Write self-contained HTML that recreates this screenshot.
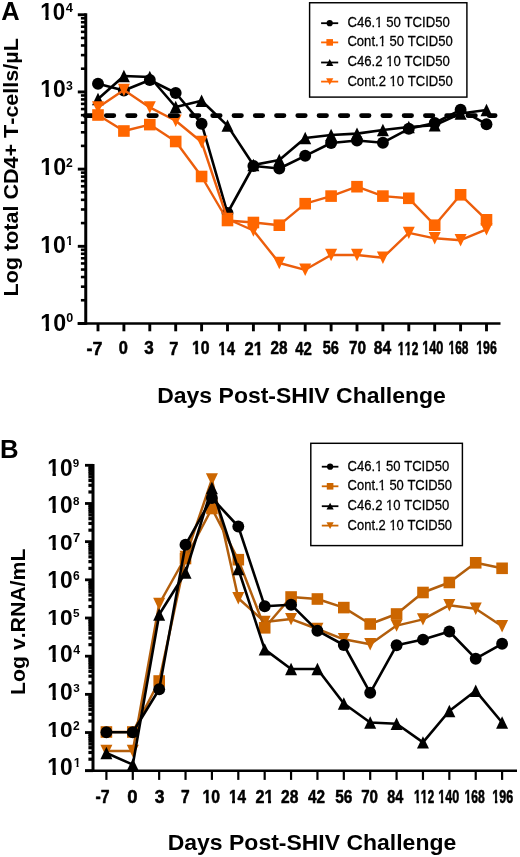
<!DOCTYPE html>
<html><head><meta charset="utf-8"><style>
html,body{margin:0;padding:0;background:#fff;}
body{width:520px;height:857px;overflow:hidden;}
svg{display:block;font-family:"Liberation Sans", sans-serif;font-kerning:none;will-change:transform;}
</style></head><body>
<svg width="520" height="857" viewBox="0 0 520 857">
<g transform="translate(1.19,19.90) scale(0.9444,0.9730)"><text x="0" y="0" font-size="27" font-weight="bold" fill="#000">A</text></g>
<line x1="85.75" y1="13.35" x2="85.75" y2="324.7" stroke="#000" stroke-width="3.0"/>
<line x1="77.8" y1="323.50" x2="85.75" y2="323.50" stroke="#000" stroke-width="2.9"/>
<line x1="80.9" y1="300.26" x2="85.75" y2="300.26" stroke="#000" stroke-width="2.6"/>
<line x1="80.9" y1="286.67" x2="85.75" y2="286.67" stroke="#000" stroke-width="2.6"/>
<line x1="80.9" y1="277.03" x2="85.75" y2="277.03" stroke="#000" stroke-width="2.6"/>
<line x1="80.9" y1="269.55" x2="85.75" y2="269.55" stroke="#000" stroke-width="2.6"/>
<line x1="80.9" y1="263.44" x2="85.75" y2="263.44" stroke="#000" stroke-width="2.6"/>
<line x1="80.9" y1="258.27" x2="85.75" y2="258.27" stroke="#000" stroke-width="2.6"/>
<line x1="80.9" y1="253.79" x2="85.75" y2="253.79" stroke="#000" stroke-width="2.6"/>
<line x1="80.9" y1="249.84" x2="85.75" y2="249.84" stroke="#000" stroke-width="2.6"/>
<line x1="77.8" y1="246.31" x2="85.75" y2="246.31" stroke="#000" stroke-width="2.9"/>
<line x1="80.9" y1="223.08" x2="85.75" y2="223.08" stroke="#000" stroke-width="2.6"/>
<line x1="80.9" y1="209.48" x2="85.75" y2="209.48" stroke="#000" stroke-width="2.6"/>
<line x1="80.9" y1="199.84" x2="85.75" y2="199.84" stroke="#000" stroke-width="2.6"/>
<line x1="80.9" y1="192.36" x2="85.75" y2="192.36" stroke="#000" stroke-width="2.6"/>
<line x1="80.9" y1="186.25" x2="85.75" y2="186.25" stroke="#000" stroke-width="2.6"/>
<line x1="80.9" y1="181.08" x2="85.75" y2="181.08" stroke="#000" stroke-width="2.6"/>
<line x1="80.9" y1="176.61" x2="85.75" y2="176.61" stroke="#000" stroke-width="2.6"/>
<line x1="80.9" y1="172.66" x2="85.75" y2="172.66" stroke="#000" stroke-width="2.6"/>
<line x1="77.8" y1="169.12" x2="85.75" y2="169.12" stroke="#000" stroke-width="2.9"/>
<line x1="80.9" y1="145.89" x2="85.75" y2="145.89" stroke="#000" stroke-width="2.6"/>
<line x1="80.9" y1="132.30" x2="85.75" y2="132.30" stroke="#000" stroke-width="2.6"/>
<line x1="80.9" y1="122.65" x2="85.75" y2="122.65" stroke="#000" stroke-width="2.6"/>
<line x1="80.9" y1="115.17" x2="85.75" y2="115.17" stroke="#000" stroke-width="2.6"/>
<line x1="80.9" y1="109.06" x2="85.75" y2="109.06" stroke="#000" stroke-width="2.6"/>
<line x1="80.9" y1="103.89" x2="85.75" y2="103.89" stroke="#000" stroke-width="2.6"/>
<line x1="80.9" y1="99.42" x2="85.75" y2="99.42" stroke="#000" stroke-width="2.6"/>
<line x1="80.9" y1="95.47" x2="85.75" y2="95.47" stroke="#000" stroke-width="2.6"/>
<line x1="77.8" y1="91.94" x2="85.75" y2="91.94" stroke="#000" stroke-width="2.9"/>
<line x1="80.9" y1="68.70" x2="85.75" y2="68.70" stroke="#000" stroke-width="2.6"/>
<line x1="80.9" y1="55.11" x2="85.75" y2="55.11" stroke="#000" stroke-width="2.6"/>
<line x1="80.9" y1="45.47" x2="85.75" y2="45.47" stroke="#000" stroke-width="2.6"/>
<line x1="80.9" y1="37.99" x2="85.75" y2="37.99" stroke="#000" stroke-width="2.6"/>
<line x1="80.9" y1="31.87" x2="85.75" y2="31.87" stroke="#000" stroke-width="2.6"/>
<line x1="80.9" y1="26.71" x2="85.75" y2="26.71" stroke="#000" stroke-width="2.6"/>
<line x1="80.9" y1="22.23" x2="85.75" y2="22.23" stroke="#000" stroke-width="2.6"/>
<line x1="80.9" y1="18.28" x2="85.75" y2="18.28" stroke="#000" stroke-width="2.6"/>
<line x1="77.8" y1="14.75" x2="85.75" y2="14.75" stroke="#000" stroke-width="2.9"/>
<line x1="77.7" y1="323.5" x2="500.5" y2="323.5" stroke="#000" stroke-width="2.6"/>
<line x1="98.00" y1="323.5" x2="98.00" y2="331.3" stroke="#000" stroke-width="2.9"/>
<line x1="123.90" y1="323.5" x2="123.90" y2="331.3" stroke="#000" stroke-width="2.9"/>
<line x1="149.80" y1="323.5" x2="149.80" y2="331.3" stroke="#000" stroke-width="2.9"/>
<line x1="175.70" y1="323.5" x2="175.70" y2="331.3" stroke="#000" stroke-width="2.9"/>
<line x1="201.60" y1="323.5" x2="201.60" y2="331.3" stroke="#000" stroke-width="2.9"/>
<line x1="227.50" y1="323.5" x2="227.50" y2="331.3" stroke="#000" stroke-width="2.9"/>
<line x1="253.40" y1="323.5" x2="253.40" y2="331.3" stroke="#000" stroke-width="2.9"/>
<line x1="279.30" y1="323.5" x2="279.30" y2="331.3" stroke="#000" stroke-width="2.9"/>
<line x1="305.20" y1="323.5" x2="305.20" y2="331.3" stroke="#000" stroke-width="2.9"/>
<line x1="331.10" y1="323.5" x2="331.10" y2="331.3" stroke="#000" stroke-width="2.9"/>
<line x1="357.00" y1="323.5" x2="357.00" y2="331.3" stroke="#000" stroke-width="2.9"/>
<line x1="382.90" y1="323.5" x2="382.90" y2="331.3" stroke="#000" stroke-width="2.9"/>
<line x1="408.80" y1="323.5" x2="408.80" y2="331.3" stroke="#000" stroke-width="2.9"/>
<line x1="434.70" y1="323.5" x2="434.70" y2="331.3" stroke="#000" stroke-width="2.9"/>
<line x1="460.60" y1="323.5" x2="460.60" y2="331.3" stroke="#000" stroke-width="2.9"/>
<line x1="486.50" y1="323.5" x2="486.50" y2="331.3" stroke="#000" stroke-width="2.9"/>
<g transform="translate(40.24,19.95) scale(0.9720,1.0092)"><text x="0" y="0" font-size="23" font-weight="bold" fill="#000">10</text><rect x="-0.15" y="-3.95" width="5.37" height="5.35" fill="#fff"/><rect x="8.67" y="-3.95" width="5.08" height="5.35" fill="#fff"/></g>
<g transform="translate(65.74,11.70) scale(1.0353,1.0353)"><text x="0" y="0" font-size="12.5" font-weight="bold" fill="#000">4</text></g>
<g transform="translate(40.31,97.15) scale(0.9935,1.0031)"><text x="0" y="0" font-size="23" font-weight="bold" fill="#000">10</text><rect x="-0.15" y="-3.95" width="5.37" height="5.35" fill="#fff"/><rect x="8.67" y="-3.95" width="5.08" height="5.35" fill="#fff"/></g>
<g transform="translate(66.05,89.50) scale(0.9829,0.9829)"><text x="0" y="0" font-size="12.5" font-weight="bold" fill="#000">3</text></g>
<g transform="translate(40.28,175.35) scale(1.0108,1.0092)"><text x="0" y="0" font-size="23" font-weight="bold" fill="#000">10</text><rect x="-0.15" y="-3.95" width="5.37" height="5.35" fill="#fff"/><rect x="8.67" y="-3.95" width="5.08" height="5.35" fill="#fff"/></g>
<g transform="translate(66.01,167.30) scale(0.9714,0.9714)"><text x="0" y="0" font-size="12.5" font-weight="bold" fill="#000">2</text></g>
<g transform="translate(40.30,252.75) scale(1.0022,1.0154)"><text x="0" y="0" font-size="23" font-weight="bold" fill="#000">10</text><rect x="-0.15" y="-3.95" width="5.37" height="5.35" fill="#fff"/><rect x="8.67" y="-3.95" width="5.08" height="5.35" fill="#fff"/></g>
<g transform="translate(66.27,244.50) scale(0.9765,0.9765)"><text x="0" y="0" font-size="12.5" font-weight="bold" fill="#000">1</text><rect x="-0.81" y="-2.88" width="3.58" height="4.28" fill="#fff"/><rect x="4.78" y="-2.88" width="3.42" height="4.28" fill="#fff"/></g>
<g transform="translate(40.28,330.54) scale(1.0108,1.0215)"><text x="0" y="0" font-size="23" font-weight="bold" fill="#000">10</text><rect x="-0.15" y="-3.95" width="5.37" height="5.35" fill="#fff"/><rect x="8.67" y="-3.95" width="5.08" height="5.35" fill="#fff"/></g>
<g transform="translate(66.30,322.30) scale(1.0057,1.0057)"><text x="0" y="0" font-size="12.5" font-weight="bold" fill="#000">0</text></g>
<g transform="translate(86.54,354.66) scale(0.9169,0.9714)"><text x="0" y="0" font-size="19.5" font-weight="bold" fill="#000" stroke="#000" stroke-width="0.5" vector-effect="non-scaling-stroke" stroke-linejoin="round">-7</text></g>
<g transform="translate(118.68,354.42) scale(0.8410,0.9544)"><text x="0" y="0" font-size="19.5" font-weight="bold" fill="#000" stroke="#000" stroke-width="0.5" vector-effect="non-scaling-stroke" stroke-linejoin="round">0</text></g>
<g transform="translate(144.18,354.42) scale(0.8780,0.9544)"><text x="0" y="0" font-size="19.5" font-weight="bold" fill="#000" stroke="#000" stroke-width="0.5" vector-effect="non-scaling-stroke" stroke-linejoin="round">3</text></g>
<g transform="translate(169.18,354.66) scale(0.8410,0.9714)"><text x="0" y="0" font-size="19.5" font-weight="bold" fill="#000" stroke="#000" stroke-width="0.5" vector-effect="non-scaling-stroke" stroke-linejoin="round">7</text></g>
<g transform="translate(191.99,354.42) scale(0.8099,0.9544)"><text x="0" y="0" font-size="19.5" font-weight="bold" fill="#000" stroke="#000" stroke-width="0.5" vector-effect="non-scaling-stroke" stroke-linejoin="round">10</text><rect x="-0.37" y="-3.59" width="4.40" height="4.99" fill="#fff"/><rect x="7.75" y="-3.59" width="4.16" height="4.99" fill="#fff"/></g>
<g transform="translate(218.33,354.66) scale(0.7663,0.9714)"><text x="0" y="0" font-size="19.5" font-weight="bold" fill="#000" stroke="#000" stroke-width="0.5" vector-effect="non-scaling-stroke" stroke-linejoin="round">14</text><rect x="-0.37" y="-3.59" width="4.38" height="4.99" fill="#fff"/><rect x="7.77" y="-3.59" width="4.13" height="4.99" fill="#fff"/></g>
<g transform="translate(244.57,354.66) scale(0.8556,0.9714)"><text x="0" y="0" font-size="19.5" font-weight="bold" fill="#000" stroke="#000" stroke-width="0.5" vector-effect="non-scaling-stroke" stroke-linejoin="round">21</text><rect x="10.47" y="-3.59" width="4.42" height="4.99" fill="#fff"/><rect x="18.57" y="-3.59" width="4.17" height="4.99" fill="#fff"/></g>
<g transform="translate(270.61,354.42) scale(0.7855,0.9544)"><text x="0" y="0" font-size="19.5" font-weight="bold" fill="#000" stroke="#000" stroke-width="0.5" vector-effect="non-scaling-stroke" stroke-linejoin="round">28</text></g>
<g transform="translate(295.20,354.66) scale(0.7671,0.9714)"><text x="0" y="0" font-size="19.5" font-weight="bold" fill="#000" stroke="#000" stroke-width="0.5" vector-effect="non-scaling-stroke" stroke-linejoin="round">42</text></g>
<g transform="translate(322.71,354.42) scale(0.7476,0.9544)"><text x="0" y="0" font-size="19.5" font-weight="bold" fill="#000" stroke="#000" stroke-width="0.5" vector-effect="non-scaling-stroke" stroke-linejoin="round">56</text></g>
<g transform="translate(348.91,354.42) scale(0.7855,0.9544)"><text x="0" y="0" font-size="19.5" font-weight="bold" fill="#000" stroke="#000" stroke-width="0.5" vector-effect="non-scaling-stroke" stroke-linejoin="round">70</text></g>
<g transform="translate(373.80,354.42) scale(0.8000,0.9544)"><text x="0" y="0" font-size="19.5" font-weight="bold" fill="#000" stroke="#000" stroke-width="0.5" vector-effect="non-scaling-stroke" stroke-linejoin="round">84</text></g>
<g transform="translate(397.76,354.66) scale(0.6355,0.9714)"><text x="0" y="0" font-size="19.5" font-weight="bold" fill="#000" stroke="#000" stroke-width="0.5" vector-effect="non-scaling-stroke" stroke-linejoin="round">112</text><rect x="-0.37" y="-3.59" width="4.30" height="4.99" fill="#fff"/><rect x="7.85" y="-3.59" width="4.05" height="4.99" fill="#fff"/><rect x="10.47" y="-3.59" width="4.30" height="4.99" fill="#fff"/><rect x="18.69" y="-3.59" width="4.05" height="4.99" fill="#fff"/></g>
<g transform="translate(422.25,354.42) scale(0.6516,0.9544)"><text x="0" y="0" font-size="19.5" font-weight="bold" fill="#000" stroke="#000" stroke-width="0.5" vector-effect="non-scaling-stroke" stroke-linejoin="round">140</text><rect x="-0.37" y="-3.59" width="4.31" height="4.99" fill="#fff"/><rect x="7.84" y="-3.59" width="4.07" height="4.99" fill="#fff"/></g>
<g transform="translate(448.59,354.42) scale(0.6112,0.9544)"><text x="0" y="0" font-size="19.5" font-weight="bold" fill="#000" stroke="#000" stroke-width="0.5" vector-effect="non-scaling-stroke" stroke-linejoin="round">168</text><rect x="-0.37" y="-3.59" width="4.28" height="4.99" fill="#fff"/><rect x="7.87" y="-3.59" width="4.03" height="4.99" fill="#fff"/></g>
<g transform="translate(476.27,354.42) scale(0.6323,0.9544)"><text x="0" y="0" font-size="19.5" font-weight="bold" fill="#000" stroke="#000" stroke-width="0.5" vector-effect="non-scaling-stroke" stroke-linejoin="round">196</text><rect x="-0.37" y="-3.59" width="4.30" height="4.99" fill="#fff"/><rect x="7.85" y="-3.59" width="4.05" height="4.99" fill="#fff"/></g>
<g transform="translate(17.86,296.47) rotate(-90) scale(0.9799,0.9349)"><text x="0" y="0" font-size="22" font-weight="bold" fill="#000">Log total CD4+ T-cells/µL</text></g>
<g transform="translate(157.20,402.77) scale(0.9997,0.9953)"><text x="0" y="0" font-size="23" font-weight="bold" fill="#000">Days Post-SHIV Challenge</text></g>
<polyline points="98.0,83.8 123.9,90.5 149.8,80.0 175.7,93.0 201.6,123.7 227.5,213.0 253.4,166.0 279.3,168.5 305.2,155.8 331.1,143.0 357.0,140.5 382.9,142.7 408.8,128.8 434.7,123.0 460.6,109.8 486.5,124.2" fill="none" stroke="#000" stroke-width="2.6" stroke-linejoin="round"/>
<circle cx="98.0" cy="83.8" r="5.95" fill="#000"/>
<circle cx="123.9" cy="90.5" r="5.95" fill="#000"/>
<circle cx="149.8" cy="80.0" r="5.95" fill="#000"/>
<circle cx="175.7" cy="93.0" r="5.95" fill="#000"/>
<circle cx="201.6" cy="123.7" r="5.95" fill="#000"/>
<circle cx="227.5" cy="213.0" r="5.95" fill="#000"/>
<circle cx="253.4" cy="166.0" r="5.95" fill="#000"/>
<circle cx="279.3" cy="168.5" r="5.95" fill="#000"/>
<circle cx="305.2" cy="155.8" r="5.95" fill="#000"/>
<circle cx="331.1" cy="143.0" r="5.95" fill="#000"/>
<circle cx="357.0" cy="140.5" r="5.95" fill="#000"/>
<circle cx="382.9" cy="142.7" r="5.95" fill="#000"/>
<circle cx="408.8" cy="128.8" r="5.95" fill="#000"/>
<circle cx="434.7" cy="123.0" r="5.95" fill="#000"/>
<circle cx="460.6" cy="109.8" r="5.95" fill="#000"/>
<circle cx="486.5" cy="124.2" r="5.95" fill="#000"/>
<polyline points="98.0,99.0 123.9,76.0 149.8,77.0 175.7,107.0 201.6,100.8 227.5,125.6 253.4,165.0 279.3,160.0 305.2,138.0 331.1,135.0 357.0,133.6 382.9,130.0 408.8,127.0 434.7,125.2 460.6,113.5 486.5,110.0" fill="none" stroke="#000" stroke-width="2.6" stroke-linejoin="round"/>
<path d="M98.00,92.80 L104.00,105.20 L92.00,105.20 Z" fill="#000"/>
<path d="M123.90,69.80 L129.90,82.20 L117.90,82.20 Z" fill="#000"/>
<path d="M149.80,70.80 L155.80,83.20 L143.80,83.20 Z" fill="#000"/>
<path d="M175.70,100.80 L181.70,113.20 L169.70,113.20 Z" fill="#000"/>
<path d="M201.60,94.60 L207.60,107.00 L195.60,107.00 Z" fill="#000"/>
<path d="M227.50,119.40 L233.50,131.80 L221.50,131.80 Z" fill="#000"/>
<path d="M253.40,158.80 L259.40,171.20 L247.40,171.20 Z" fill="#000"/>
<path d="M279.30,153.80 L285.30,166.20 L273.30,166.20 Z" fill="#000"/>
<path d="M305.20,131.80 L311.20,144.20 L299.20,144.20 Z" fill="#000"/>
<path d="M331.10,128.80 L337.10,141.20 L325.10,141.20 Z" fill="#000"/>
<path d="M357.00,127.40 L363.00,139.80 L351.00,139.80 Z" fill="#000"/>
<path d="M382.90,123.80 L388.90,136.20 L376.90,136.20 Z" fill="#000"/>
<path d="M408.80,120.80 L414.80,133.20 L402.80,133.20 Z" fill="#000"/>
<path d="M434.70,119.00 L440.70,131.40 L428.70,131.40 Z" fill="#000"/>
<path d="M460.60,107.30 L466.60,119.70 L454.60,119.70 Z" fill="#000"/>
<path d="M486.50,103.80 L492.50,116.20 L480.50,116.20 Z" fill="#000"/>
<polyline points="98.0,107.5 123.9,90.0 149.8,107.4 175.7,120.8 201.6,142.0 227.5,219.0 253.4,230.5 279.3,263.0 305.2,269.8 331.1,255.0 357.0,255.0 382.9,257.7 408.8,232.9 434.7,238.3 460.6,240.2 486.5,229.4" fill="none" stroke="#EC5E0C" stroke-width="2.4" stroke-linejoin="round"/>
<path d="M98.00,113.70 L104.00,101.30 L92.00,101.30 Z" fill="#FF6600"/>
<path d="M123.90,96.20 L129.90,83.80 L117.90,83.80 Z" fill="#FF6600"/>
<path d="M149.80,113.60 L155.80,101.20 L143.80,101.20 Z" fill="#FF6600"/>
<path d="M175.70,126.95 L181.70,114.55 L169.70,114.55 Z" fill="#FF6600"/>
<path d="M201.60,148.20 L207.60,135.80 L195.60,135.80 Z" fill="#FF6600"/>
<path d="M227.50,225.20 L233.50,212.80 L221.50,212.80 Z" fill="#FF6600"/>
<path d="M253.40,236.70 L259.40,224.30 L247.40,224.30 Z" fill="#FF6600"/>
<path d="M279.30,269.20 L285.30,256.80 L273.30,256.80 Z" fill="#FF6600"/>
<path d="M305.20,276.00 L311.20,263.60 L299.20,263.60 Z" fill="#FF6600"/>
<path d="M331.10,261.20 L337.10,248.80 L325.10,248.80 Z" fill="#FF6600"/>
<path d="M357.00,261.20 L363.00,248.80 L351.00,248.80 Z" fill="#FF6600"/>
<path d="M382.90,263.90 L388.90,251.50 L376.90,251.50 Z" fill="#FF6600"/>
<path d="M408.80,239.10 L414.80,226.70 L402.80,226.70 Z" fill="#FF6600"/>
<path d="M434.70,244.50 L440.70,232.10 L428.70,232.10 Z" fill="#FF6600"/>
<path d="M460.60,246.40 L466.60,234.00 L454.60,234.00 Z" fill="#FF6600"/>
<path d="M486.50,235.60 L492.50,223.20 L480.50,223.20 Z" fill="#FF6600"/>
<line x1="85.0" y1="115.6" x2="495.2" y2="115.6" stroke="#000" stroke-width="4.6" stroke-dasharray="7.6 13.67" stroke-linecap="round"/>
<polyline points="98.0,115.0 123.9,131.0 149.8,124.6 175.7,141.5 201.6,176.5 227.5,220.5 253.4,222.5 279.3,225.2 305.2,203.7 331.1,196.1 357.0,186.7 382.9,196.1 408.8,198.3 434.7,225.2 460.6,194.8 486.5,219.8" fill="none" stroke="#EC5E0C" stroke-width="2.4" stroke-linejoin="round"/>
<rect x="92.2" y="109.2" width="11.6" height="11.6" fill="#FF6600"/>
<rect x="118.1" y="125.2" width="11.6" height="11.6" fill="#FF6600"/>
<rect x="144.0" y="118.8" width="11.6" height="11.6" fill="#FF6600"/>
<rect x="169.9" y="135.7" width="11.6" height="11.6" fill="#FF6600"/>
<rect x="195.8" y="170.7" width="11.6" height="11.6" fill="#FF6600"/>
<rect x="221.7" y="214.7" width="11.6" height="11.6" fill="#FF6600"/>
<rect x="247.6" y="216.7" width="11.6" height="11.6" fill="#FF6600"/>
<rect x="273.5" y="219.4" width="11.6" height="11.6" fill="#FF6600"/>
<rect x="299.4" y="197.9" width="11.6" height="11.6" fill="#FF6600"/>
<rect x="325.3" y="190.3" width="11.6" height="11.6" fill="#FF6600"/>
<rect x="351.2" y="180.9" width="11.6" height="11.6" fill="#FF6600"/>
<rect x="377.1" y="190.3" width="11.6" height="11.6" fill="#FF6600"/>
<rect x="403.0" y="192.5" width="11.6" height="11.6" fill="#FF6600"/>
<rect x="428.9" y="219.4" width="11.6" height="11.6" fill="#FF6600"/>
<rect x="454.8" y="189.0" width="11.6" height="11.6" fill="#FF6600"/>
<rect x="480.7" y="214.0" width="11.6" height="11.6" fill="#FF6600"/>
<rect x="309.6" y="2.75" width="157.29999999999995" height="94.35" fill="#fff" stroke="#000" stroke-width="1.45"/>
<line x1="321.1" y1="23.2" x2="338.2" y2="23.2" stroke="#000" stroke-width="1.8"/>
<circle cx="329.7" cy="23.2" r="3.1" fill="#000"/>
<line x1="321.1" y1="42.4" x2="338.2" y2="42.4" stroke="#FF6600" stroke-width="1.8"/>
<rect x="326.4" y="39.1" width="6.6" height="6.6" fill="#FF6600"/>
<line x1="321.1" y1="62.5" x2="338.2" y2="62.5" stroke="#000" stroke-width="1.8"/>
<path d="M329.70,59.10 L333.30,65.90 L326.10,65.90 Z" fill="#000"/>
<line x1="321.1" y1="81.6" x2="338.2" y2="81.6" stroke="#FF6600" stroke-width="1.8"/>
<path d="M329.70,85.00 L333.30,78.20 L326.10,78.20 Z" fill="#FF6600"/>
<g transform="translate(347.41,27.34) scale(0.9755,1.0462)"><text x="0" y="0" font-size="13.5" fill="#000" stroke="#000" stroke-width="0.25" vector-effect="non-scaling-stroke" stroke-linejoin="round">C46.1 50 TCID50</text><rect x="27.94" y="-2.61" width="3.64" height="4.01" fill="#fff"/><rect x="33.43" y="-2.61" width="3.53" height="4.01" fill="#fff"/></g>
<g transform="translate(347.42,45.84) scale(0.9685,1.0256)"><text x="0" y="0" font-size="13.5" fill="#000" stroke="#000" stroke-width="0.25" vector-effect="non-scaling-stroke" stroke-linejoin="round">Cont.1 50 TCID50</text><rect x="31.70" y="-2.61" width="3.64" height="4.01" fill="#fff"/><rect x="37.19" y="-2.61" width="3.53" height="4.01" fill="#fff"/></g>
<g transform="translate(347.41,66.24) scale(0.9755,1.0462)"><text x="0" y="0" font-size="13.5" fill="#000" stroke="#000" stroke-width="0.25" vector-effect="non-scaling-stroke" stroke-linejoin="round">C46.2 10 TCID50</text><rect x="39.20" y="-2.61" width="3.64" height="4.01" fill="#fff"/><rect x="44.69" y="-2.61" width="3.53" height="4.01" fill="#fff"/></g>
<g transform="translate(347.42,86.23) scale(0.9685,1.0667)"><text x="0" y="0" font-size="13.5" fill="#000" stroke="#000" stroke-width="0.25" vector-effect="non-scaling-stroke" stroke-linejoin="round">Cont.2 10 TCID50</text><rect x="42.95" y="-2.61" width="3.64" height="4.01" fill="#fff"/><rect x="48.44" y="-2.61" width="3.53" height="4.01" fill="#fff"/></g>
<g transform="translate(-0.03,457.90) scale(0.9905,1.0197)"><text x="0" y="0" font-size="26" font-weight="bold" fill="#000">B</text></g>
<line x1="93.0" y1="463.90000000000003" x2="93.0" y2="771.9000000000001" stroke="#000" stroke-width="3.0"/>
<line x1="85.0" y1="770.70" x2="93.0" y2="770.70" stroke="#000" stroke-width="2.8"/>
<line x1="88.4" y1="759.21" x2="93.0" y2="759.21" stroke="#000" stroke-width="3.2"/>
<line x1="88.4" y1="752.49" x2="93.0" y2="752.49" stroke="#000" stroke-width="3.2"/>
<line x1="88.4" y1="747.72" x2="93.0" y2="747.72" stroke="#000" stroke-width="3.2"/>
<line x1="88.4" y1="744.02" x2="93.0" y2="744.02" stroke="#000" stroke-width="3.2"/>
<line x1="88.4" y1="740.99" x2="93.0" y2="740.99" stroke="#000" stroke-width="3.2"/>
<line x1="88.4" y1="738.44" x2="93.0" y2="738.44" stroke="#000" stroke-width="3.2"/>
<line x1="88.4" y1="736.22" x2="93.0" y2="736.22" stroke="#000" stroke-width="3.2"/>
<line x1="88.4" y1="734.27" x2="93.0" y2="734.27" stroke="#000" stroke-width="3.2"/>
<line x1="85.0" y1="732.53" x2="93.0" y2="732.53" stroke="#000" stroke-width="2.8"/>
<line x1="88.4" y1="721.03" x2="93.0" y2="721.03" stroke="#000" stroke-width="3.2"/>
<line x1="88.4" y1="714.31" x2="93.0" y2="714.31" stroke="#000" stroke-width="3.2"/>
<line x1="88.4" y1="709.54" x2="93.0" y2="709.54" stroke="#000" stroke-width="3.2"/>
<line x1="88.4" y1="705.84" x2="93.0" y2="705.84" stroke="#000" stroke-width="3.2"/>
<line x1="88.4" y1="702.82" x2="93.0" y2="702.82" stroke="#000" stroke-width="3.2"/>
<line x1="88.4" y1="700.26" x2="93.0" y2="700.26" stroke="#000" stroke-width="3.2"/>
<line x1="88.4" y1="698.05" x2="93.0" y2="698.05" stroke="#000" stroke-width="3.2"/>
<line x1="88.4" y1="696.10" x2="93.0" y2="696.10" stroke="#000" stroke-width="3.2"/>
<line x1="85.0" y1="694.35" x2="93.0" y2="694.35" stroke="#000" stroke-width="2.8"/>
<line x1="88.4" y1="682.86" x2="93.0" y2="682.86" stroke="#000" stroke-width="3.2"/>
<line x1="88.4" y1="676.14" x2="93.0" y2="676.14" stroke="#000" stroke-width="3.2"/>
<line x1="88.4" y1="671.37" x2="93.0" y2="671.37" stroke="#000" stroke-width="3.2"/>
<line x1="88.4" y1="667.67" x2="93.0" y2="667.67" stroke="#000" stroke-width="3.2"/>
<line x1="88.4" y1="664.64" x2="93.0" y2="664.64" stroke="#000" stroke-width="3.2"/>
<line x1="88.4" y1="662.09" x2="93.0" y2="662.09" stroke="#000" stroke-width="3.2"/>
<line x1="88.4" y1="659.87" x2="93.0" y2="659.87" stroke="#000" stroke-width="3.2"/>
<line x1="88.4" y1="657.92" x2="93.0" y2="657.92" stroke="#000" stroke-width="3.2"/>
<line x1="85.0" y1="656.18" x2="93.0" y2="656.18" stroke="#000" stroke-width="2.8"/>
<line x1="88.4" y1="644.68" x2="93.0" y2="644.68" stroke="#000" stroke-width="3.2"/>
<line x1="88.4" y1="637.96" x2="93.0" y2="637.96" stroke="#000" stroke-width="3.2"/>
<line x1="88.4" y1="633.19" x2="93.0" y2="633.19" stroke="#000" stroke-width="3.2"/>
<line x1="88.4" y1="629.49" x2="93.0" y2="629.49" stroke="#000" stroke-width="3.2"/>
<line x1="88.4" y1="626.47" x2="93.0" y2="626.47" stroke="#000" stroke-width="3.2"/>
<line x1="88.4" y1="623.91" x2="93.0" y2="623.91" stroke="#000" stroke-width="3.2"/>
<line x1="88.4" y1="621.70" x2="93.0" y2="621.70" stroke="#000" stroke-width="3.2"/>
<line x1="88.4" y1="619.75" x2="93.0" y2="619.75" stroke="#000" stroke-width="3.2"/>
<line x1="85.0" y1="618.00" x2="93.0" y2="618.00" stroke="#000" stroke-width="2.8"/>
<line x1="88.4" y1="606.51" x2="93.0" y2="606.51" stroke="#000" stroke-width="3.2"/>
<line x1="88.4" y1="599.79" x2="93.0" y2="599.79" stroke="#000" stroke-width="3.2"/>
<line x1="88.4" y1="595.02" x2="93.0" y2="595.02" stroke="#000" stroke-width="3.2"/>
<line x1="88.4" y1="591.32" x2="93.0" y2="591.32" stroke="#000" stroke-width="3.2"/>
<line x1="88.4" y1="588.29" x2="93.0" y2="588.29" stroke="#000" stroke-width="3.2"/>
<line x1="88.4" y1="585.74" x2="93.0" y2="585.74" stroke="#000" stroke-width="3.2"/>
<line x1="88.4" y1="583.52" x2="93.0" y2="583.52" stroke="#000" stroke-width="3.2"/>
<line x1="88.4" y1="581.57" x2="93.0" y2="581.57" stroke="#000" stroke-width="3.2"/>
<line x1="85.0" y1="579.83" x2="93.0" y2="579.83" stroke="#000" stroke-width="2.8"/>
<line x1="88.4" y1="568.33" x2="93.0" y2="568.33" stroke="#000" stroke-width="3.2"/>
<line x1="88.4" y1="561.61" x2="93.0" y2="561.61" stroke="#000" stroke-width="3.2"/>
<line x1="88.4" y1="556.84" x2="93.0" y2="556.84" stroke="#000" stroke-width="3.2"/>
<line x1="88.4" y1="553.14" x2="93.0" y2="553.14" stroke="#000" stroke-width="3.2"/>
<line x1="88.4" y1="550.12" x2="93.0" y2="550.12" stroke="#000" stroke-width="3.2"/>
<line x1="88.4" y1="547.56" x2="93.0" y2="547.56" stroke="#000" stroke-width="3.2"/>
<line x1="88.4" y1="545.35" x2="93.0" y2="545.35" stroke="#000" stroke-width="3.2"/>
<line x1="88.4" y1="543.40" x2="93.0" y2="543.40" stroke="#000" stroke-width="3.2"/>
<line x1="85.0" y1="541.65" x2="93.0" y2="541.65" stroke="#000" stroke-width="2.8"/>
<line x1="88.4" y1="530.16" x2="93.0" y2="530.16" stroke="#000" stroke-width="3.2"/>
<line x1="88.4" y1="523.44" x2="93.0" y2="523.44" stroke="#000" stroke-width="3.2"/>
<line x1="88.4" y1="518.67" x2="93.0" y2="518.67" stroke="#000" stroke-width="3.2"/>
<line x1="88.4" y1="514.97" x2="93.0" y2="514.97" stroke="#000" stroke-width="3.2"/>
<line x1="88.4" y1="511.94" x2="93.0" y2="511.94" stroke="#000" stroke-width="3.2"/>
<line x1="88.4" y1="509.39" x2="93.0" y2="509.39" stroke="#000" stroke-width="3.2"/>
<line x1="88.4" y1="507.17" x2="93.0" y2="507.17" stroke="#000" stroke-width="3.2"/>
<line x1="88.4" y1="505.22" x2="93.0" y2="505.22" stroke="#000" stroke-width="3.2"/>
<line x1="85.0" y1="503.48" x2="93.0" y2="503.48" stroke="#000" stroke-width="2.8"/>
<line x1="88.4" y1="491.98" x2="93.0" y2="491.98" stroke="#000" stroke-width="3.2"/>
<line x1="88.4" y1="485.26" x2="93.0" y2="485.26" stroke="#000" stroke-width="3.2"/>
<line x1="88.4" y1="480.49" x2="93.0" y2="480.49" stroke="#000" stroke-width="3.2"/>
<line x1="88.4" y1="476.79" x2="93.0" y2="476.79" stroke="#000" stroke-width="3.2"/>
<line x1="88.4" y1="473.77" x2="93.0" y2="473.77" stroke="#000" stroke-width="3.2"/>
<line x1="88.4" y1="471.21" x2="93.0" y2="471.21" stroke="#000" stroke-width="3.2"/>
<line x1="88.4" y1="469.00" x2="93.0" y2="469.00" stroke="#000" stroke-width="3.2"/>
<line x1="88.4" y1="467.05" x2="93.0" y2="467.05" stroke="#000" stroke-width="3.2"/>
<line x1="85.0" y1="465.30" x2="93.0" y2="465.30" stroke="#000" stroke-width="2.8"/>
<line x1="85.0" y1="770.7" x2="517.0" y2="770.7" stroke="#000" stroke-width="2.4"/>
<line x1="106.40" y1="770.7" x2="106.40" y2="779.9" stroke="#000" stroke-width="2.2"/>
<line x1="132.78" y1="770.7" x2="132.78" y2="779.9" stroke="#000" stroke-width="2.2"/>
<line x1="159.16" y1="770.7" x2="159.16" y2="779.9" stroke="#000" stroke-width="2.2"/>
<line x1="185.54" y1="770.7" x2="185.54" y2="779.9" stroke="#000" stroke-width="2.2"/>
<line x1="211.92" y1="770.7" x2="211.92" y2="779.9" stroke="#000" stroke-width="2.2"/>
<line x1="238.30" y1="770.7" x2="238.30" y2="779.9" stroke="#000" stroke-width="2.2"/>
<line x1="264.68" y1="770.7" x2="264.68" y2="779.9" stroke="#000" stroke-width="2.2"/>
<line x1="291.06" y1="770.7" x2="291.06" y2="779.9" stroke="#000" stroke-width="2.2"/>
<line x1="317.44" y1="770.7" x2="317.44" y2="779.9" stroke="#000" stroke-width="2.2"/>
<line x1="343.82" y1="770.7" x2="343.82" y2="779.9" stroke="#000" stroke-width="2.2"/>
<line x1="370.20" y1="770.7" x2="370.20" y2="779.9" stroke="#000" stroke-width="2.2"/>
<line x1="396.58" y1="770.7" x2="396.58" y2="779.9" stroke="#000" stroke-width="2.2"/>
<line x1="422.96" y1="770.7" x2="422.96" y2="779.9" stroke="#000" stroke-width="2.2"/>
<line x1="449.34" y1="770.7" x2="449.34" y2="779.9" stroke="#000" stroke-width="2.2"/>
<line x1="475.72" y1="770.7" x2="475.72" y2="779.9" stroke="#000" stroke-width="2.2"/>
<line x1="502.10" y1="770.7" x2="502.10" y2="779.9" stroke="#000" stroke-width="2.2"/>
<g transform="translate(47.32,475.54) scale(0.9892,1.0215)"><text x="0" y="0" font-size="23" font-weight="bold" fill="#000">10</text><rect x="-0.15" y="-3.95" width="5.37" height="5.35" fill="#fff"/><rect x="8.67" y="-3.95" width="5.08" height="5.35" fill="#fff"/></g>
<g transform="translate(72.74,467.30) scale(0.9257,0.9257)"><text x="0" y="0" font-size="12.5" font-weight="bold" fill="#000">9</text></g>
<g transform="translate(47.32,512.65) scale(0.9892,1.0031)"><text x="0" y="0" font-size="23" font-weight="bold" fill="#000">10</text><rect x="-0.15" y="-3.95" width="5.37" height="5.35" fill="#fff"/><rect x="8.67" y="-3.95" width="5.08" height="5.35" fill="#fff"/></g>
<g transform="translate(72.94,504.70) scale(0.9257,0.9257)"><text x="0" y="0" font-size="12.5" font-weight="bold" fill="#000">8</text></g>
<g transform="translate(47.32,550.15) scale(0.9892,0.9969)"><text x="0" y="0" font-size="23" font-weight="bold" fill="#000">10</text><rect x="-0.15" y="-3.95" width="5.37" height="5.35" fill="#fff"/><rect x="8.67" y="-3.95" width="5.08" height="5.35" fill="#fff"/></g>
<g transform="translate(72.88,542.30) scale(1.0353,1.0353)"><text x="0" y="0" font-size="12.5" font-weight="bold" fill="#000">7</text></g>
<g transform="translate(47.32,587.95) scale(0.9892,1.0092)"><text x="0" y="0" font-size="23" font-weight="bold" fill="#000">10</text><rect x="-0.15" y="-3.95" width="5.37" height="5.35" fill="#fff"/><rect x="8.67" y="-3.95" width="5.08" height="5.35" fill="#fff"/></g>
<g transform="translate(72.92,579.50) scale(0.9600,0.9600)"><text x="0" y="0" font-size="12.5" font-weight="bold" fill="#000">6</text></g>
<g transform="translate(47.32,624.86) scale(0.9892,0.9785)"><text x="0" y="0" font-size="23" font-weight="bold" fill="#000">10</text><rect x="-0.15" y="-3.95" width="5.37" height="5.35" fill="#fff"/><rect x="8.67" y="-3.95" width="5.08" height="5.35" fill="#fff"/></g>
<g transform="translate(72.93,617.20) scale(0.9412,0.9412)"><text x="0" y="0" font-size="12.5" font-weight="bold" fill="#000">5</text></g>
<g transform="translate(47.32,662.25) scale(0.9892,1.0092)"><text x="0" y="0" font-size="23" font-weight="bold" fill="#000">10</text><rect x="-0.15" y="-3.95" width="5.37" height="5.35" fill="#fff"/><rect x="8.67" y="-3.95" width="5.08" height="5.35" fill="#fff"/></g>
<g transform="translate(73.15,654.20) scale(0.9882,0.9882)"><text x="0" y="0" font-size="12.5" font-weight="bold" fill="#000">4</text></g>
<g transform="translate(47.32,699.95) scale(0.9892,1.0092)"><text x="0" y="0" font-size="23" font-weight="bold" fill="#000">10</text><rect x="-0.15" y="-3.95" width="5.37" height="5.35" fill="#fff"/><rect x="8.67" y="-3.95" width="5.08" height="5.35" fill="#fff"/></g>
<g transform="translate(73.17,691.70) scale(0.9371,0.9371)"><text x="0" y="0" font-size="12.5" font-weight="bold" fill="#000">3</text></g>
<g transform="translate(47.32,737.05) scale(0.9892,0.9908)"><text x="0" y="0" font-size="23" font-weight="bold" fill="#000">10</text><rect x="-0.15" y="-3.95" width="5.37" height="5.35" fill="#fff"/><rect x="8.67" y="-3.95" width="5.08" height="5.35" fill="#fff"/></g>
<g transform="translate(72.92,729.60) scale(0.9600,0.9600)"><text x="0" y="0" font-size="12.5" font-weight="bold" fill="#000">2</text></g>
<g transform="translate(47.32,774.55) scale(0.9892,1.0154)"><text x="0" y="0" font-size="23" font-weight="bold" fill="#000">10</text><rect x="-0.15" y="-3.95" width="5.37" height="5.35" fill="#fff"/><rect x="8.67" y="-3.95" width="5.08" height="5.35" fill="#fff"/></g>
<g transform="translate(73.75,766.80) scale(1.0000,1.0000)"><text x="0" y="0" font-size="12.5" font-weight="bold" fill="#000">1</text><rect x="-0.81" y="-2.88" width="3.58" height="4.28" fill="#fff"/><rect x="4.78" y="-2.88" width="3.42" height="4.28" fill="#fff"/></g>
<g transform="translate(95.59,803.45) scale(0.8123,0.9857)"><text x="0" y="0" font-size="19.5" font-weight="bold" fill="#000" stroke="#000" stroke-width="0.5" vector-effect="non-scaling-stroke" stroke-linejoin="round">-7</text></g>
<g transform="translate(127.22,803.22) scale(0.9538,0.9684)"><text x="0" y="0" font-size="19.5" font-weight="bold" fill="#000" stroke="#000" stroke-width="0.5" vector-effect="non-scaling-stroke" stroke-linejoin="round">0</text></g>
<g transform="translate(154.78,803.22) scale(0.8976,0.9684)"><text x="0" y="0" font-size="19.5" font-weight="bold" fill="#000" stroke="#000" stroke-width="0.5" vector-effect="non-scaling-stroke" stroke-linejoin="round">3</text></g>
<g transform="translate(180.90,803.45) scale(0.8000,0.9857)"><text x="0" y="0" font-size="19.5" font-weight="bold" fill="#000" stroke="#000" stroke-width="0.5" vector-effect="non-scaling-stroke" stroke-linejoin="round">7</text></g>
<g transform="translate(202.60,803.22) scale(0.8049,0.9684)"><text x="0" y="0" font-size="19.5" font-weight="bold" fill="#000" stroke="#000" stroke-width="0.5" vector-effect="non-scaling-stroke" stroke-linejoin="round">10</text><rect x="-0.37" y="-3.59" width="4.40" height="4.99" fill="#fff"/><rect x="7.75" y="-3.59" width="4.15" height="4.99" fill="#fff"/></g>
<g transform="translate(228.91,803.45) scale(0.7855,0.9857)"><text x="0" y="0" font-size="19.5" font-weight="bold" fill="#000" stroke="#000" stroke-width="0.5" vector-effect="non-scaling-stroke" stroke-linejoin="round">14</text><rect x="-0.37" y="-3.59" width="4.39" height="4.99" fill="#fff"/><rect x="7.76" y="-3.59" width="4.14" height="4.99" fill="#fff"/></g>
<g transform="translate(255.58,803.45) scale(0.8333,0.9857)"><text x="0" y="0" font-size="19.5" font-weight="bold" fill="#000" stroke="#000" stroke-width="0.5" vector-effect="non-scaling-stroke" stroke-linejoin="round">21</text><rect x="10.47" y="-3.59" width="4.41" height="4.99" fill="#fff"/><rect x="18.58" y="-3.59" width="4.17" height="4.99" fill="#fff"/></g>
<g transform="translate(281.00,803.22) scale(0.8000,0.9684)"><text x="0" y="0" font-size="19.5" font-weight="bold" fill="#000" stroke="#000" stroke-width="0.5" vector-effect="non-scaling-stroke" stroke-linejoin="round">28</text></g>
<g transform="translate(308.00,803.45) scale(0.7859,0.9857)"><text x="0" y="0" font-size="19.5" font-weight="bold" fill="#000" stroke="#000" stroke-width="0.5" vector-effect="non-scaling-stroke" stroke-linejoin="round">42</text></g>
<g transform="translate(335.20,803.22) scale(0.7905,0.9684)"><text x="0" y="0" font-size="19.5" font-weight="bold" fill="#000" stroke="#000" stroke-width="0.5" vector-effect="non-scaling-stroke" stroke-linejoin="round">56</text></g>
<g transform="translate(361.21,803.22) scale(0.7759,0.9684)"><text x="0" y="0" font-size="19.5" font-weight="bold" fill="#000" stroke="#000" stroke-width="0.5" vector-effect="non-scaling-stroke" stroke-linejoin="round">70</text></g>
<g transform="translate(387.23,803.22) scale(0.7388,0.9684)"><text x="0" y="0" font-size="19.5" font-weight="bold" fill="#000" stroke="#000" stroke-width="0.5" vector-effect="non-scaling-stroke" stroke-linejoin="round">84</text></g>
<g transform="translate(414.08,803.45) scale(0.6194,0.9857)"><text x="0" y="0" font-size="19.5" font-weight="bold" fill="#000" stroke="#000" stroke-width="0.5" vector-effect="non-scaling-stroke" stroke-linejoin="round">112</text><rect x="-0.37" y="-3.59" width="4.29" height="4.99" fill="#fff"/><rect x="7.86" y="-3.59" width="4.04" height="4.99" fill="#fff"/><rect x="10.47" y="-3.59" width="4.29" height="4.99" fill="#fff"/><rect x="18.71" y="-3.59" width="4.04" height="4.99" fill="#fff"/></g>
<g transform="translate(438.26,803.22) scale(0.6419,0.9684)"><text x="0" y="0" font-size="19.5" font-weight="bold" fill="#000" stroke="#000" stroke-width="0.5" vector-effect="non-scaling-stroke" stroke-linejoin="round">140</text><rect x="-0.37" y="-3.59" width="4.31" height="4.99" fill="#fff"/><rect x="7.84" y="-3.59" width="4.06" height="4.99" fill="#fff"/></g>
<g transform="translate(464.58,803.22) scale(0.6240,0.9684)"><text x="0" y="0" font-size="19.5" font-weight="bold" fill="#000" stroke="#000" stroke-width="0.5" vector-effect="non-scaling-stroke" stroke-linejoin="round">168</text><rect x="-0.37" y="-3.59" width="4.29" height="4.99" fill="#fff"/><rect x="7.86" y="-3.59" width="4.04" height="4.99" fill="#fff"/></g>
<g transform="translate(492.36,803.22) scale(0.6419,0.9684)"><text x="0" y="0" font-size="19.5" font-weight="bold" fill="#000" stroke="#000" stroke-width="0.5" vector-effect="non-scaling-stroke" stroke-linejoin="round">196</text><rect x="-0.37" y="-3.59" width="4.31" height="4.99" fill="#fff"/><rect x="7.84" y="-3.59" width="4.06" height="4.99" fill="#fff"/></g>
<g transform="translate(24.90,694.95) rotate(-90) scale(0.9659,0.9060)"><text x="0" y="0" font-size="22" font-weight="bold" fill="#000">Log v.RNA/mL</text></g>
<g transform="translate(167.73,850.01) scale(0.9776,0.9773)"><text x="0" y="0" font-size="23.5" font-weight="bold" fill="#000">Days Post-SHIV Challenge</text></g>
<polyline points="106.4,751.0 132.8,751.0 159.2,604.0 185.5,557.0 211.9,479.5 238.3,598.2 264.7,622.0 291.1,619.1 317.4,629.0 343.8,639.3 370.2,644.2 396.6,625.6 423.0,619.4 449.3,605.2 475.7,608.7 502.1,626.2" fill="none" stroke="#B25E0C" stroke-width="2.5" stroke-linejoin="round"/>
<path d="M106.40,757.20 L112.40,744.80 L100.40,744.80 Z" fill="#CC6600"/>
<path d="M132.78,757.20 L138.78,744.80 L126.78,744.80 Z" fill="#CC6600"/>
<path d="M159.16,610.20 L165.16,597.80 L153.16,597.80 Z" fill="#CC6600"/>
<path d="M185.54,563.20 L191.54,550.80 L179.54,550.80 Z" fill="#CC6600"/>
<path d="M211.92,485.70 L217.92,473.30 L205.92,473.30 Z" fill="#CC6600"/>
<path d="M238.30,604.40 L244.30,592.00 L232.30,592.00 Z" fill="#CC6600"/>
<path d="M264.68,628.20 L270.68,615.80 L258.68,615.80 Z" fill="#CC6600"/>
<path d="M291.06,625.30 L297.06,612.90 L285.06,612.90 Z" fill="#CC6600"/>
<path d="M317.44,635.20 L323.44,622.80 L311.44,622.80 Z" fill="#CC6600"/>
<path d="M343.82,645.50 L349.82,633.10 L337.82,633.10 Z" fill="#CC6600"/>
<path d="M370.20,650.40 L376.20,638.00 L364.20,638.00 Z" fill="#CC6600"/>
<path d="M396.58,631.80 L402.58,619.40 L390.58,619.40 Z" fill="#CC6600"/>
<path d="M422.96,625.60 L428.96,613.20 L416.96,613.20 Z" fill="#CC6600"/>
<path d="M449.34,611.40 L455.34,599.00 L443.34,599.00 Z" fill="#CC6600"/>
<path d="M475.72,614.90 L481.72,602.50 L469.72,602.50 Z" fill="#CC6600"/>
<path d="M502.10,632.40 L508.10,620.00 L496.10,620.00 Z" fill="#CC6600"/>
<polyline points="106.4,732.0 132.8,732.0 159.2,681.0 185.5,558.5 211.9,508.5 238.3,559.7 264.7,627.8 291.1,597.0 317.4,599.0 343.8,607.6 370.2,624.0 396.6,614.0 423.0,592.5 449.3,582.5 475.7,562.8 502.1,568.3" fill="none" stroke="#B25E0C" stroke-width="2.5" stroke-linejoin="round"/>
<rect x="100.6" y="726.2" width="11.6" height="11.6" fill="#CC6600"/>
<rect x="127.0" y="726.2" width="11.6" height="11.6" fill="#CC6600"/>
<rect x="153.4" y="675.2" width="11.6" height="11.6" fill="#CC6600"/>
<rect x="179.7" y="552.7" width="11.6" height="11.6" fill="#CC6600"/>
<rect x="206.1" y="502.7" width="11.6" height="11.6" fill="#CC6600"/>
<rect x="232.5" y="553.9" width="11.6" height="11.6" fill="#CC6600"/>
<rect x="258.9" y="622.0" width="11.6" height="11.6" fill="#CC6600"/>
<rect x="285.3" y="591.2" width="11.6" height="11.6" fill="#CC6600"/>
<rect x="311.6" y="593.2" width="11.6" height="11.6" fill="#CC6600"/>
<rect x="338.0" y="601.8" width="11.6" height="11.6" fill="#CC6600"/>
<rect x="364.4" y="618.2" width="11.6" height="11.6" fill="#CC6600"/>
<rect x="390.8" y="608.2" width="11.6" height="11.6" fill="#CC6600"/>
<rect x="417.2" y="586.7" width="11.6" height="11.6" fill="#CC6600"/>
<rect x="443.5" y="576.7" width="11.6" height="11.6" fill="#CC6600"/>
<rect x="469.9" y="557.0" width="11.6" height="11.6" fill="#CC6600"/>
<rect x="496.3" y="562.5" width="11.6" height="11.6" fill="#CC6600"/>
<polyline points="106.4,753.0 132.8,764.6 159.2,614.5 185.5,572.5 211.9,488.0 238.3,569.0 264.7,649.4 291.1,669.0 317.4,669.0 343.8,703.5 370.2,722.5 396.6,723.8 423.0,742.4 449.3,711.0 475.7,690.8 502.1,722.5" fill="none" stroke="#000" stroke-width="2.6" stroke-linejoin="round"/>
<path d="M106.40,746.80 L112.40,759.20 L100.40,759.20 Z" fill="#000"/>
<path d="M132.78,758.40 L138.78,770.80 L126.78,770.80 Z" fill="#000"/>
<path d="M159.16,608.30 L165.16,620.70 L153.16,620.70 Z" fill="#000"/>
<path d="M185.54,566.30 L191.54,578.70 L179.54,578.70 Z" fill="#000"/>
<path d="M211.92,481.80 L217.92,494.20 L205.92,494.20 Z" fill="#000"/>
<path d="M238.30,562.80 L244.30,575.20 L232.30,575.20 Z" fill="#000"/>
<path d="M264.68,643.20 L270.68,655.60 L258.68,655.60 Z" fill="#000"/>
<path d="M291.06,662.80 L297.06,675.20 L285.06,675.20 Z" fill="#000"/>
<path d="M317.44,662.80 L323.44,675.20 L311.44,675.20 Z" fill="#000"/>
<path d="M343.82,697.30 L349.82,709.70 L337.82,709.70 Z" fill="#000"/>
<path d="M370.20,716.30 L376.20,728.70 L364.20,728.70 Z" fill="#000"/>
<path d="M396.58,717.60 L402.58,730.00 L390.58,730.00 Z" fill="#000"/>
<path d="M422.96,736.20 L428.96,748.60 L416.96,748.60 Z" fill="#000"/>
<path d="M449.34,704.80 L455.34,717.20 L443.34,717.20 Z" fill="#000"/>
<path d="M475.72,684.60 L481.72,697.00 L469.72,697.00 Z" fill="#000"/>
<path d="M502.10,716.30 L508.10,728.70 L496.10,728.70 Z" fill="#000"/>
<polyline points="106.4,732.3 132.8,732.3 159.2,689.2 185.5,544.8 211.9,498.0 238.3,526.5 264.7,606.2 291.1,604.7 317.4,630.7 343.8,645.0 370.2,692.8 396.6,645.3 423.0,639.6 449.3,631.5 475.7,658.7 502.1,643.8" fill="none" stroke="#000" stroke-width="2.6" stroke-linejoin="round"/>
<circle cx="106.4" cy="732.3" r="5.95" fill="#000"/>
<circle cx="132.8" cy="732.3" r="5.95" fill="#000"/>
<circle cx="159.2" cy="689.2" r="5.95" fill="#000"/>
<circle cx="185.5" cy="544.8" r="5.95" fill="#000"/>
<circle cx="211.9" cy="498.0" r="5.95" fill="#000"/>
<circle cx="238.3" cy="526.5" r="5.95" fill="#000"/>
<circle cx="264.7" cy="606.2" r="5.95" fill="#000"/>
<circle cx="291.1" cy="604.7" r="5.95" fill="#000"/>
<circle cx="317.4" cy="630.7" r="5.95" fill="#000"/>
<circle cx="343.8" cy="645.0" r="5.95" fill="#000"/>
<circle cx="370.2" cy="692.8" r="5.95" fill="#000"/>
<circle cx="396.6" cy="645.3" r="5.95" fill="#000"/>
<circle cx="423.0" cy="639.6" r="5.95" fill="#000"/>
<circle cx="449.3" cy="631.5" r="5.95" fill="#000"/>
<circle cx="475.7" cy="658.7" r="5.95" fill="#000"/>
<circle cx="502.1" cy="643.8" r="5.95" fill="#000"/>
<rect x="310.8" y="443.3" width="151.59999999999997" height="102.30000000000001" fill="#fff" stroke="#000" stroke-width="1.45"/>
<line x1="321.8" y1="466.7" x2="338.4" y2="466.7" stroke="#000" stroke-width="1.8"/>
<circle cx="330.1" cy="466.7" r="3.1" fill="#000"/>
<line x1="321.8" y1="486.3" x2="338.4" y2="486.3" stroke="#CC6600" stroke-width="1.8"/>
<rect x="326.8" y="483.0" width="6.6" height="6.6" fill="#CC6600"/>
<line x1="321.8" y1="506.2" x2="338.4" y2="506.2" stroke="#000" stroke-width="1.8"/>
<path d="M330.10,502.80 L333.70,509.60 L326.50,509.60 Z" fill="#000"/>
<line x1="321.8" y1="525.6" x2="338.4" y2="525.6" stroke="#CC6600" stroke-width="1.8"/>
<path d="M330.10,529.00 L333.70,522.20 L326.50,522.20 Z" fill="#CC6600"/>
<g transform="translate(347.62,470.54) scale(0.9679,1.0359)"><text x="0" y="0" font-size="13.5" fill="#000" stroke="#000" stroke-width="0.25" vector-effect="non-scaling-stroke" stroke-linejoin="round">C46.1 50 TCID50</text><rect x="27.94" y="-2.61" width="3.64" height="4.01" fill="#fff"/><rect x="33.43" y="-2.61" width="3.53" height="4.01" fill="#fff"/></g>
<g transform="translate(347.62,490.24) scale(0.9611,1.0359)"><text x="0" y="0" font-size="13.5" fill="#000" stroke="#000" stroke-width="0.25" vector-effect="non-scaling-stroke" stroke-linejoin="round">Cont.1 50 TCID50</text><rect x="31.70" y="-2.61" width="3.63" height="4.01" fill="#fff"/><rect x="37.19" y="-2.61" width="3.53" height="4.01" fill="#fff"/></g>
<g transform="translate(347.62,509.94) scale(0.9679,1.0256)"><text x="0" y="0" font-size="13.5" fill="#000" stroke="#000" stroke-width="0.25" vector-effect="non-scaling-stroke" stroke-linejoin="round">C46.2 10 TCID50</text><rect x="39.20" y="-2.61" width="3.64" height="4.01" fill="#fff"/><rect x="44.69" y="-2.61" width="3.53" height="4.01" fill="#fff"/></g>
<g transform="translate(347.62,529.55) scale(0.9611,1.0154)"><text x="0" y="0" font-size="13.5" fill="#000" stroke="#000" stroke-width="0.25" vector-effect="non-scaling-stroke" stroke-linejoin="round">Cont.2 10 TCID50</text><rect x="42.95" y="-2.61" width="3.63" height="4.01" fill="#fff"/><rect x="48.45" y="-2.61" width="3.53" height="4.01" fill="#fff"/></g>
</svg>
</body></html>
